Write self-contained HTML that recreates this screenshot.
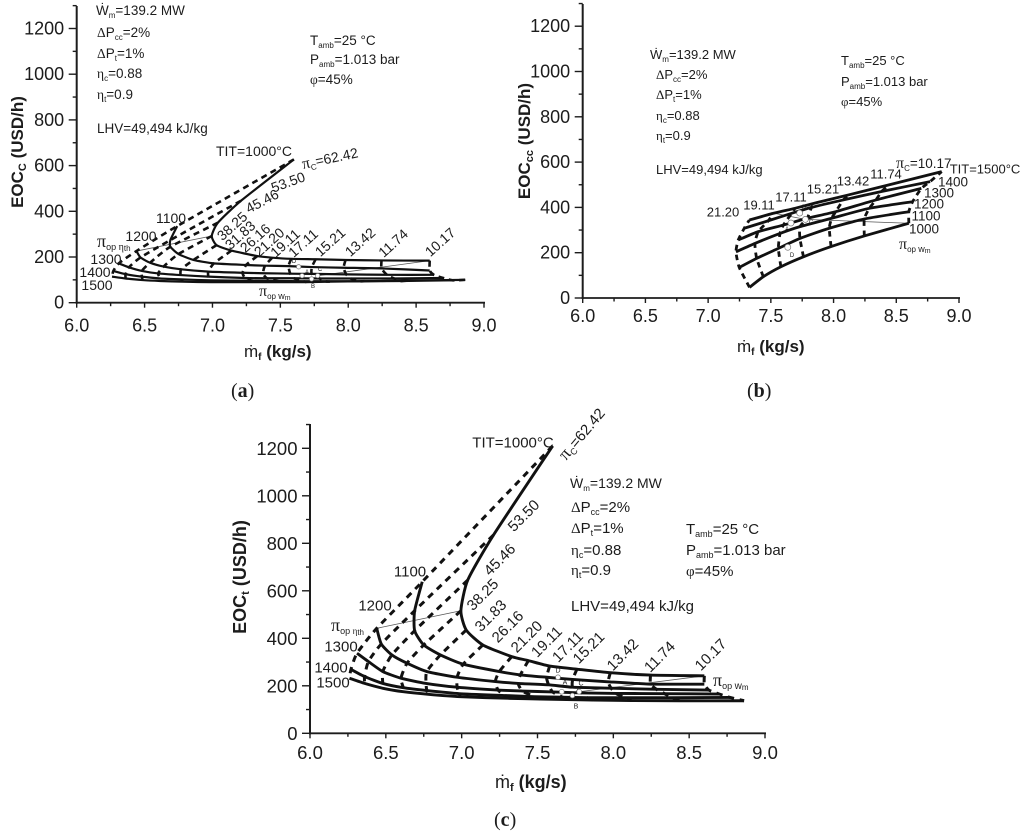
<!DOCTYPE html>
<html lang="en">
<head>
<meta charset="utf-8">
<title>Exergoeconomic operating cost charts</title>
<style>
html,body{margin:0;padding:0;background:#fff;width:1024px;height:836px;overflow:hidden}
svg{display:block;font-family:"Liberation Sans",sans-serif;fill:#1c1c1c;filter:blur(0.3px)}
.g{font-family:"Liberation Serif",serif}
.b{font-weight:bold}
</style>
</head>
<body>
<svg id="root" width="1024" height="836" viewBox="0 0 1024 836" xmlns="http://www.w3.org/2000/svg">
<g id="panelA">
  <g font-size="13.5">
    <text x="96" y="15">Ẇ<tspan dy="3" font-size="8">m</tspan><tspan dy="-3">=139.2 MW</tspan></text>
    <text x="97" y="37"><tspan class="g">Δ</tspan>P<tspan dy="3" font-size="8">cc</tspan><tspan dy="-3">=2%</tspan></text>
    <text x="97" y="58"><tspan class="g">Δ</tspan>P<tspan dy="3" font-size="8">t</tspan><tspan dy="-3">=1%</tspan></text>
    <text x="97" y="78"><tspan class="g">η</tspan><tspan dy="3" font-size="8">c</tspan><tspan dy="-3">=0.88</tspan></text>
    <text x="97" y="99"><tspan class="g">η</tspan><tspan dy="3" font-size="8">t</tspan><tspan dy="-3">=0.9</tspan></text>
    <text x="97" y="133">LHV=49,494 kJ/kg</text>
    <text x="310" y="45">T<tspan dy="3" font-size="8">amb</tspan><tspan dy="-3">=25 °C</tspan></text>
    <text x="310" y="64">P<tspan dy="3" font-size="8">amb</tspan><tspan dy="-3">=1.013 bar</tspan></text>
    <text x="310" y="84"><tspan class="g">φ</tspan>=45%</text>
  </g>
  <text class="b" font-size="17" text-anchor="middle" transform="translate(23 152) rotate(-90)">EOC<tspan dy="3" font-size="11">C</tspan><tspan dy="-3"> (USD/h)</tspan></text>
  <text font-size="17" x="244" y="357">ṁ<tspan dy="3" font-size="10" class="b">f</tspan><tspan dy="-3" class="b"> (kg/s)</tspan></text>
  <text font-family="Liberation Serif" font-size="20" x="231" y="397">(<tspan font-weight="bold">a</tspan>)</text>
  <text x="97" y="247" font-size="14"><tspan class="g" font-size="18">π</tspan><tspan dy="3" font-size="9">op </tspan><tspan class="g" font-size="10">η</tspan><tspan font-size="8" dy="1">th</tspan></text>
  <text x="259" y="296" font-size="14"><tspan class="g" font-size="16">π</tspan><tspan dy="3" font-size="8">op </tspan><tspan font-size="9">w</tspan><tspan font-size="7" dy="1">m</tspan></text>
  <text font-size="14" transform="translate(303 169) rotate(-12)"><tspan class="g" font-size="16">π</tspan><tspan dy="3" font-size="8">C</tspan><tspan dy="-3">=62.42</tspan></text>
</g>
<g id="panelB">
  <g font-size="13">
    <text x="650" y="59">Ẇ<tspan dy="3" font-size="8">m</tspan><tspan dy="-3">=139.2 MW</tspan></text>
    <text x="656" y="79"><tspan class="g">Δ</tspan>P<tspan dy="3" font-size="8">cc</tspan><tspan dy="-3">=2%</tspan></text>
    <text x="656" y="99"><tspan class="g">Δ</tspan>P<tspan dy="3" font-size="8">t</tspan><tspan dy="-3">=1%</tspan></text>
    <text x="656" y="120"><tspan class="g">η</tspan><tspan dy="3" font-size="8">c</tspan><tspan dy="-3">=0.88</tspan></text>
    <text x="656" y="140"><tspan class="g">η</tspan><tspan dy="3" font-size="8">t</tspan><tspan dy="-3">=0.9</tspan></text>
    <text x="656" y="174">LHV=49,494 kJ/kg</text>
    <text x="841" y="65">T<tspan dy="3" font-size="8">amb</tspan><tspan dy="-3">=25 °C</tspan></text>
    <text x="841" y="86">P<tspan dy="3" font-size="8">amb</tspan><tspan dy="-3">=1.013 bar</tspan></text>
    <text x="841" y="106"><tspan class="g">φ</tspan>=45%</text>
  </g>
  <text class="b" font-size="17" text-anchor="middle" transform="translate(530 141) rotate(-90)">EOC<tspan dy="3" font-size="11">cc</tspan><tspan dy="-3"> (USD/h)</tspan></text>
  <text font-size="17" x="737" y="352">ṁ<tspan dy="3" font-size="10" class="b">f</tspan><tspan dy="-3" class="b"> (kg/s)</tspan></text>
  <text font-family="Liberation Serif" font-size="20" x="747" y="397">(<tspan font-weight="bold">b</tspan>)</text>
  <text font-size="13.5" transform="translate(896 168)"><tspan class="g" font-size="16">π</tspan><tspan dy="3" font-size="8">C</tspan><tspan dy="-3">=10.17</tspan></text>
  <text x="899" y="249" font-size="14"><tspan class="g" font-size="16">π</tspan><tspan dy="3" font-size="8">op </tspan><tspan font-size="9">w</tspan><tspan font-size="7" dy="1">m</tspan></text>
</g>
<g id="panelC">
  <g font-size="15">
    <text x="570" y="488" font-size="14">Ẇ<tspan dy="3" font-size="8">m</tspan><tspan dy="-3">=139.2 MW</tspan></text>
    <text x="571" y="512"><tspan class="g">Δ</tspan>P<tspan dy="3" font-size="9">cc</tspan><tspan dy="-3">=2%</tspan></text>
    <text x="571" y="533"><tspan class="g">Δ</tspan>P<tspan dy="3" font-size="9">t</tspan><tspan dy="-3">=1%</tspan></text>
    <text x="571" y="555"><tspan class="g">η</tspan><tspan dy="3" font-size="9">c</tspan><tspan dy="-3">=0.88</tspan></text>
    <text x="571" y="575"><tspan class="g">η</tspan><tspan dy="3" font-size="9">t</tspan><tspan dy="-3">=0.9</tspan></text>
    <text x="571" y="611">LHV=49,494 kJ/kg</text>
    <text x="686" y="534">T<tspan dy="3" font-size="9">amb</tspan><tspan dy="-3">=25 °C</tspan></text>
    <text x="686" y="555">P<tspan dy="3" font-size="9">amb</tspan><tspan dy="-3">=1.013 bar</tspan></text>
    <text x="686" y="576"><tspan class="g">φ</tspan>=45%</text>
  </g>
  <text class="b" font-size="18" text-anchor="middle" transform="translate(246 577) rotate(-90)">EOC<tspan dy="3" font-size="11">t</tspan><tspan dy="-3"> (USD/h)</tspan></text>
  <text font-size="18" x="495" y="788">ṁ<tspan dy="3" font-size="11" class="b">f</tspan><tspan dy="-3" class="b"> (kg/s)</tspan></text>
  <text font-family="Liberation Serif" font-size="20" x="494" y="826">(<tspan font-weight="bold">c</tspan>)</text>
  <text x="331" y="631" font-size="15"><tspan class="g" font-size="18">π</tspan><tspan dy="3" font-size="9">op </tspan><tspan class="g" font-size="9">η</tspan><tspan font-size="8" dy="1">th</tspan></text>
  <text x="713" y="686" font-size="15"><tspan class="g" font-size="18">π</tspan><tspan dy="3" font-size="9">op </tspan><tspan font-size="10">w</tspan><tspan font-size="8" dy="1">m</tspan></text>
  <text font-size="15" transform="translate(566 461) rotate(-50)"><tspan class="g" font-size="18">π</tspan><tspan dy="3" font-size="9">C</tspan><tspan dy="-3">=62.42</tspan></text>
</g>
</svg>
<script>
// Shared categories
const titLevels = [1000, 1100, 1200, 1300, 1400, 1500];
const piRatios = ['62.42','53.50','45.46','38.25','31.83','26.16','21.20','19.11','17.11','15.21','13.42','11.74','10.17'];
const yTicks = [0, 200, 400, 600, 800, 1000, 1200];
const xTicks = [6.0, 6.5, 7.0, 7.5, 8.0, 8.5, 9.0];

// Fuel mass flow (kg/s) per TIT, ordered as piRatios
const mf1000 = [7.60,7.21,7.04,6.995,7.03,7.14,7.33,7.44,7.58,7.76,7.98,8.245,8.60];
const mf1100 = [6.74,6.69,6.69,6.75,6.86,7.01,7.248,7.387,7.56,7.732,7.966,8.245,8.60];
const mf1200 = [6.44,6.47,6.54,6.64,6.77,6.97,7.222,7.373,7.573,7.732,7.985,8.285,8.63];
const mf1300 = [6.31,6.385,6.48,6.60,6.765,6.97,7.24,7.40,7.60,7.79,8.017,8.338,8.70];
const mf1400 = [6.27,6.36,6.48,6.615,6.77,6.985,7.288,7.48,7.666,7.825,8.078,8.383,8.77];
const mf1500 = [6.26,6.36,6.485,6.615,6.78,6.99,7.328,7.52,7.692,7.865,8.118,8.437,8.862];
const mfRows = [mf1000, mf1100, mf1200, mf1300, mf1400, mf1500];

// Panel (a) EOC_C values
const eocC1000 = [627,446,350,292,252,228,204,197,192,190,187,185,184];
const eocC1100 = [335,274,245,213,187,172,165,162,160,156,153,150,141];
const eocC1200 = [226,198,175,158,146,136,131,129,127,126,124,122,122];
const eocC1300 = [172,155,139,128,121,114,108,107,107,106,106,106,108];
const eocC1400 = [139,125,114,106,102,98,96,95,94,94,94,95,98];
const eocC1500 = [114,106,99,95,92,90,90,90,90,92,94,97,100];
const eocCRows = [eocC1000, eocC1100, eocC1200, eocC1300, eocC1400, eocC1500];

// Panel (b) EOC_cc values, from pressure ratio 21.20 to 10.17
const eocCc1000 = [47,94,138,182,227,274,330];
const eocCc1100 = [135,175,219,263,308,349,381];
const eocCc1200 = [204,241,285,315,352,396,425];
const eocCc1300 = [256,293,322,352,381,433,484];
const eocCc1400 = [308,341,374,400,433,470,514];
const eocCc1500 = [344,374,396,421,455,499,558];
const eocCcRows = [eocCc1000, eocCc1100, eocCc1200, eocCc1300, eocCc1400, eocCc1500];

// Panel (c) EOC_t values
const eocT1000 = [1210,835,645,516,435,372,323,306,283,270,255,245,242];
const eocT1100 = [638,516,432,372,330,291,260,246,236,227,217,207,207];
const eocT1200 = [442,376,330,295,260,236,218,210,204,194,190,185,182];
const eocT1300 = [337,302,260,232,210,194,182,178,174,170,168,167,165];
const eocT1400 = [269,239,210,192,180,167,159,154,152,150,150,150,151];
const eocT1500 = [232,210,189,175,164,154,147,144,142,140,138,137,137];
const eocTRows = [eocT1000, eocT1100, eocT1200, eocT1300, eocT1400, eocT1500];

// Design-point markers [A, B, C, D] and optimum-locus lines
const pointLabels = ['A', 'B', 'C', 'D'];
const pointMf = [7.66, 7.73, 7.775, 7.635];
const pointEocC = [118, 104, 118, 157];
const pointEocCc = [331, 375, 347, 224];
const pointEocT = [175, 159, 175, 236];
const etaLocusMf = [6.44, 6.995];
const etaLocusEocC = [226, 292];
const etaLocusEocT = [442, 516];
const wmLocusMf = [7.775, 8.60];
const wmLocusEocC = [118, 184];
const wmLocusEocT = [175, 242];
const wmLocusBMf = [7.50, 7.775, 8.60];
const wmLocusBEocCc = [377, 347, 330];

const NS = 'http://www.w3.org/2000/svg';

function makeAxes(x0, x9, y0, k, top) {
  return {
    x: function (v) { return x0 + (v - 6) * (x9 - x0) / 3; },
    y: function (v) { return y0 - v * k; },
    x0: x0, x9: x9, y0: y0, top: top
  };
}

function line(parent, x1, y1, x2, y2, w, name) {
  const el = document.createElementNS(NS, 'line');
  el.setAttribute('x1', x1);
  el.setAttribute('y1', y1);
  el.setAttribute('x2', x2);
  el.setAttribute('y2', y2);
  el.setAttribute('stroke', '#1c1c1c');
  el.setAttribute('stroke-width', w);
  
  
  parent.appendChild(el);
  return el;
}

function label(parent, str, x, y, rot, size, name) {
  const el = document.createElementNS(NS, 'text');
  el.textContent = str;
  el.setAttribute('text-anchor', 'middle');
  el.setAttribute('dominant-baseline', 'central');
  el.setAttribute('font-size', size);
  el.setAttribute('transform', 'translate(' + x + ' ' + y + ') rotate(' + rot + ')');
  
  
  parent.appendChild(el);
  return el;
}

function smoothPath(pts) {
  let d = 'M' + pts[0][0].toFixed(2) + ' ' + pts[0][1].toFixed(2);
  for (let i = 0; i < pts.length - 1; i++) {
    const p0 = pts[Math.max(i - 1, 0)], p1 = pts[i], p2 = pts[i + 1], p3 = pts[Math.min(i + 2, pts.length - 1)];
    const c1x = p1[0] + (p2[0] - p0[0]) / 10, c1y = p1[1] + (p2[1] - p0[1]) / 10;
    const c2x = p2[0] - (p3[0] - p1[0]) / 10, c2y = p2[1] - (p3[1] - p1[1]) / 10;
    d += 'C' + c1x.toFixed(2) + ' ' + c1y.toFixed(2) + ' ' + c2x.toFixed(2) + ' ' + c2y.toFixed(2) + ' ' + p2[0].toFixed(2) + ' ' + p2[1].toFixed(2);
  }
  return d;
}

function curve(parent, pts, w, dash, name) {
  const el = document.createElementNS(NS, 'path');
  el.setAttribute('d', smoothPath(pts));
  el.setAttribute('fill', 'none');
  el.setAttribute('stroke', '#111');
  el.setAttribute('stroke-width', w);
  if (dash) el.setAttribute('stroke-dasharray', dash);
  
  
  parent.appendChild(el);
}

function drawAxes(parent, ax, suffix, size, baseOffset) {
  line(parent, ax.x0, ax.top, ax.x0, ax.y0 + 1, 2, 'y-axis-' + suffix);
  line(parent, ax.x0 - 1, ax.y0, ax.x9 + 1, ax.y0, 1.8, 'x-axis-' + suffix);
  yTicks.forEach(function (v) {
    line(parent, ax.x0 - 8, ax.y(v), ax.x0, ax.y(v), 1.4, 'y-tick-' + v + '-' + suffix);
    line(parent, ax.x0 - 4, ax.y(v + 100), ax.x0, ax.y(v + 100), 1.4, 'y-minor-tick-' + (v + 100) + '-' + suffix);
    const t = label(parent, String(v), ax.x0 - 12.5, ax.y(v), 0, size, 'y-tick-label-' + v + '-' + suffix);
    t.setAttribute('text-anchor', 'end');
  });
  xTicks.forEach(function (v, i) {
    line(parent, ax.x(v), ax.y0, ax.x(v), ax.y0 + 5, 1.4, 'x-tick-' + v + '-' + suffix);
    if (i < xTicks.length - 1) line(parent, ax.x(v + 0.25), ax.y0, ax.x(v + 0.25), ax.y0 + 3.5, 1.4, 'x-minor-tick-' + (v + 0.25) + '-' + suffix);
    label(parent, v.toFixed(1), ax.x(v), ax.y0 + baseOffset, 0, size, 'x-tick-label-' + v + '-' + suffix);
  });
}

function drawGrid(parent, ax, mfs, eocs, ratios, suffix, solidW, dashW, dash) {
  ratios.forEach(function (pi, j) {
    const pts = mfs.map(function (row, i) { return [ax.x(row[j]), ax.y(eocs[i][j])]; });
    curve(parent, pts, dashW, dash, 'pressure-ratio-' + pi + '-line-' + suffix);
  });
  titLevels.forEach(function (tit, i) {
    const pts = mfs[i].map(function (m, j) { return [ax.x(m), ax.y(eocs[i][j])]; });
    curve(parent, pts, solidW, null, 'tit-' + tit + '-line-' + suffix);
  });
}

function thinLine(parent, ax, xs, ys, name) {
  for (let i = 0; i < xs.length - 1; i++) {
    const el = line(parent, ax.x(xs[i]), ax.y(ys[i]), ax.x(xs[i + 1]), ax.y(ys[i + 1]), 0.8, name);
    el.setAttribute('stroke', '#555');
  }
}

function drawPoints(parent, ax, ys, r, suffix) {
  pointLabels.forEach(function (name, i) {
    const c = document.createElementNS(NS, 'circle');
    c.setAttribute('cx', ax.x(pointMf[i]));
    c.setAttribute('cy', ax.y(ys[i]));
    c.setAttribute('r', r);
    c.setAttribute('fill', '#fff');
    c.setAttribute('stroke', '#777');
    c.setAttribute('stroke-width', 0.7);
    
    
    parent.appendChild(c);
  });
}

const gA = document.getElementById('panelA');
const gB = document.getElementById('panelB');
const gC = document.getElementById('panelC');
const axA = makeAxes(76.7, 484, 302.7, 0.2285, 6);
const axB = makeAxes(582.7, 959, 298, 0.2265, 4);
const axC = makeAxes(310, 765, 733.3, 0.2375, 424);

// Panel (a)
drawAxes(gA, axA, 'a', 18, 23);
thinLine(gA, axA, etaLocusMf, etaLocusEocC, 'eta-optimum-locus-a');
thinLine(gA, axA, wmLocusMf, wmLocusEocC, 'power-optimum-locus-a');
drawGrid(gA, axA, mfRows, eocCRows, piRatios, 'a', 2.2, 2.6, '6 4.5');
drawPoints(gA, axA, pointEocC, 2.2, 'a');

// Panel (b)
const mfRowsB = mfRows.map(function (r) { return r.slice(6); });
drawAxes(gB, axB, 'b', 18, 18);
thinLine(gB, axB, wmLocusBMf, wmLocusBEocCc, 'power-optimum-locus-b');
drawGrid(gB, axB, mfRowsB, eocCcRows, piRatios.slice(6), 'b', 2.8, 2.8, '5.5 4.5');
drawPoints(gB, axB, pointEocCc, 3, 'b');

// Panel (c)
drawAxes(gC, axC, 'c', 18.5, 19);
thinLine(gC, axC, etaLocusMf, etaLocusEocT, 'eta-optimum-locus-c');
thinLine(gC, axC, wmLocusMf, wmLocusEocT, 'power-optimum-locus-c');
drawGrid(gC, axC, mfRows, eocTRows, piRatios, 'c', 2.9, 3, '6.5 5.5');
drawPoints(gC, axC, pointEocT, 2.4, 'c');

// Annotation labels: panel (a)
label(gA, 'TIT=1000°C', 254, 151, 0, 14, 'tit-1000-label-a');
label(gA, '53.50', 288, 182, -20, 14, 'pi-53-label-a');
label(gA, '45.46', 262, 201, -28, 14, 'pi-45-label-a');
label(gA, '38.25', 232, 226, -42, 14, 'pi-38-label-a');
label(gA, '31.83', 240, 235, -42, 14, 'pi-31-label-a');
label(gA, '26.16', 255, 238, -42, 14, 'pi-26-label-a');
label(gA, '21.20', 269, 242, -42, 14, 'pi-21-label-a');
label(gA, '19.11', 285, 243, -42, 14, 'pi-19-label-a');
label(gA, '17.11', 303, 243, -42, 14, 'pi-17-label-a');
label(gA, '15.21', 330, 242, -42, 14, 'pi-15-label-a');
label(gA, '13.42', 360, 242, -42, 14, 'pi-13-label-a');
label(gA, '11.74', 393, 243, -42, 14, 'pi-11-label-a');
label(gA, '10.17', 440, 242, -42, 14, 'pi-10-label-a');
label(gA, '1100', 171, 218, 0, 14, 'tit-1100-label-a');
label(gA, '1200', 141, 236, 0, 14, 'tit-1200-label-a');
label(gA, '1300', 106, 259, 0, 14, 'tit-1300-label-a');
label(gA, '1400', 95, 272, 0, 14, 'tit-1400-label-a');
label(gA, '1500', 97, 285, 0, 14, 'tit-1500-label-a');
label(gA, 'A', 307, 273, 0, 6, 'point-a-label-a');
label(gA, 'B', 313, 287, 0, 6, 'point-b-label-a');
label(gA, 'C', 320, 270, 0, 6, 'point-c-label-a');
label(gA, 'D', 294, 262, 0, 6, 'point-d-label-a');

// Annotation labels: panel (b)
label(gB, '11.74', 886, 174, 0, 13, 'pi-11-label-b');
label(gB, '13.42', 853, 181, 0, 13, 'pi-13-label-b');
label(gB, '15.21', 823, 189, 0, 13, 'pi-15-label-b');
label(gB, '17.11', 791, 197, 0, 13, 'pi-17-label-b');
label(gB, '19.11', 759, 205, 0, 13, 'pi-19-label-b');
label(gB, '21.20', 723, 212, 0, 13, 'pi-21-label-b');
label(gB, 'TIT=1500°C', 985, 169, 0, 13, 'tit-1500-label-b');
label(gB, '1400', 953, 182, 0, 13.5, 'tit-1400-label-b');
label(gB, '1300', 939, 193, 0, 13.5, 'tit-1300-label-b');
label(gB, '1200', 929, 204, 0, 13.5, 'tit-1200-label-b');
label(gB, '1100', 926, 216, 0, 13.5, 'tit-1100-label-b');
label(gB, '1000', 924, 229, 0, 13.5, 'tit-1000-label-b');
label(gB, 'A', 787, 230, 0, 6, 'point-a-label-b');
label(gB, 'B', 804, 208, 0, 6, 'point-b-label-b');
label(gB, 'C', 811, 223, 0, 6, 'point-c-label-b');
label(gB, 'D', 792, 256, 0, 6, 'point-d-label-b');

// Annotation labels: panel (c)
label(gC, 'TIT=1000°C', 513, 443, 0, 15, 'tit-1000-label-c');
label(gC, '53.50', 524, 516, -45, 15, 'pi-53-label-c');
label(gC, '45.46', 500, 560, -45, 15, 'pi-45-label-c');
label(gC, '38.25', 483, 595, -45, 15, 'pi-38-label-c');
label(gC, '31.83', 491, 616, -45, 15, 'pi-31-label-c');
label(gC, '26.16', 508, 627, -45, 15, 'pi-26-label-c');
label(gC, '21.20', 527, 637, -45, 15, 'pi-21-label-c');
label(gC, '19.11', 547, 642, -45, 15, 'pi-19-label-c');
label(gC, '17.11', 568, 647, -45, 15, 'pi-17-label-c');
label(gC, '15.21', 589, 648, -45, 15, 'pi-15-label-c');
label(gC, '13.42', 623, 655, -45, 15, 'pi-13-label-c');
label(gC, '11.74', 660, 657, -45, 15, 'pi-11-label-c');
label(gC, '10.17', 711, 655, -45, 15, 'pi-10-label-c');
label(gC, '1100', 410, 572, 0, 15, 'tit-1100-label-c');
label(gC, '1200', 375, 606, 0, 15, 'tit-1200-label-c');
label(gC, '1300', 341, 647, 0, 15, 'tit-1300-label-c');
label(gC, '1400', 331, 668, 0, 15, 'tit-1400-label-c');
label(gC, '1500', 333, 683, 0, 15, 'tit-1500-label-c');
label(gC, 'A', 565, 683, 0, 7, 'point-a-label-c');
label(gC, 'B', 576, 707, 0, 7, 'point-b-label-c');
label(gC, 'C', 581, 684, 0, 7, 'point-c-label-c');
label(gC, 'D', 558, 671, 0, 7, 'point-d-label-c');
</script>
</body>
</html>
